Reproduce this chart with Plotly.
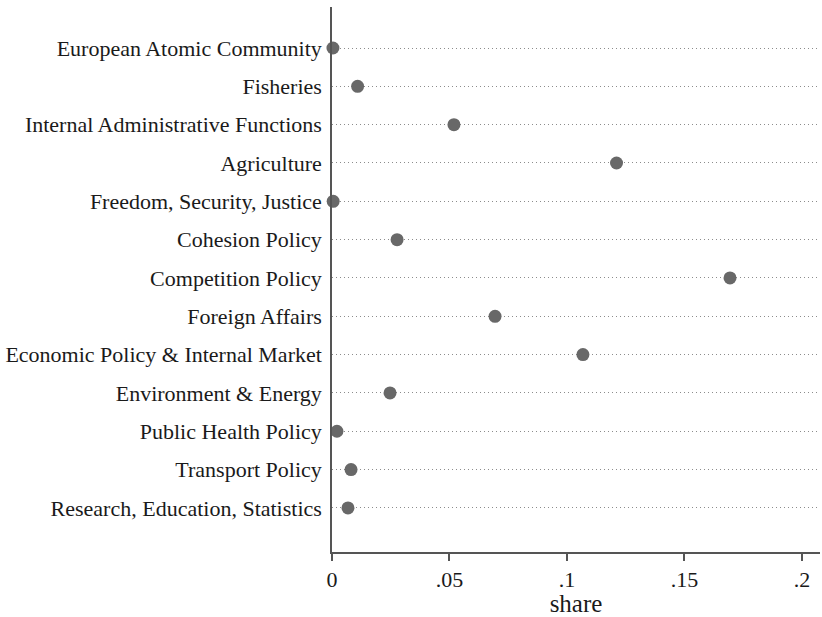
import plotly.graph_objects as go

# Policy areas, listed top to bottom
categories = [
    "European Atomic Community",
    "Fisheries",
    "Internal Administrative Functions",
    "Agriculture",
    "Freedom, Security, Justice",
    "Cohesion Policy",
    "Competition Policy",
    "Foreign Affairs",
    "Economic Policy & Internal Market",
    "Environment & Energy",
    "Public Health Policy",
    "Transport Policy",
    "Research, Education, Statistics",
]
share = [0.0004, 0.0109, 0.0519, 0.1211, 0.0005, 0.0277, 0.1694,
         0.0694, 0.1068, 0.0247, 0.0021, 0.0081, 0.0068]
x_ticks = [0, 0.05, 0.1, 0.15, 0.2]
x_tick_labels = ["0", ".05", ".1", ".15", ".2"]

# bottom-to-top order for the categorical axis
cats_rev = categories[::-1]
share_rev = share[::-1]

font_family = "Liberation Serif, Times New Roman, serif"

fig = go.Figure(
    go.Scatter(
        x=share_rev,
        y=cats_rev,
        mode="markers",
        marker=dict(color="#686868", size=13, line=dict(width=0)),
        cliponaxis=False,
        showlegend=False,
    )
)

fig.update_layout(
    width=822,
    height=617,
    margin=dict(l=332, r=2, t=7, b=65),
    paper_bgcolor="white",
    plot_bgcolor="white",
    font=dict(family=font_family, color="#1a1a1a", size=22),
)

fig.update_xaxes(
    range=[0, 0.2077],
    tickvals=x_ticks,
    ticktext=x_tick_labels,
    ticks="outside",
    ticklen=7,
    tickwidth=1.5,
    tickcolor="#555555",
    showline=True,
    linecolor="#555555",
    linewidth=1.5,
    showgrid=False,
    zeroline=False,
    tickfont=dict(size=22),
    title=dict(text="share", font=dict(size=25), standoff=2),
)

fig.update_yaxes(
    type="category",
    categoryorder="array",
    categoryarray=cats_rev,
    range=[-1.15, 13.07],
    ticks="",
    showline=True,
    linecolor="#555555",
    linewidth=1.5,
    showgrid=True,
    gridcolor="#8c8c8c",
    gridwidth=1,
    griddash="1px,3px",
    zeroline=False,
    tickfont=dict(size=22),
    ticklabelstandoff=4,
)

fig.write_html("out.html")
